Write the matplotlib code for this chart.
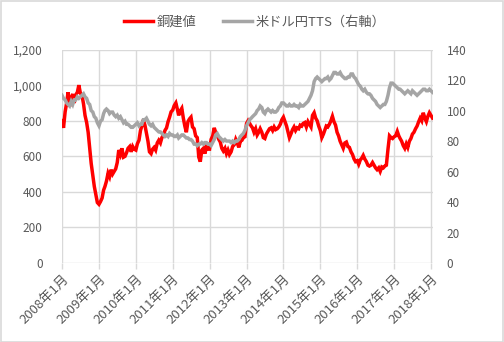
import datetime as dt
import numpy as np
import matplotlib
matplotlib.use("Agg")
import matplotlib.pyplot as plt
from matplotlib.patches import Rectangle

plt.rcParams['font.family'] = ['Noto Sans CJK JP', 'DejaVu Sans']

# Semi-monthly observations (1st and 16th of each month), Jan 2008 - Jan 2018
copper = [
    # 2008
    800, 760, 850, 900, 960, 880, 930, 950, 900, 945, 960, 1000,
    955, 945, 895, 830, 790, 735, 650, 560, 495, 430, 385, 340,
    # 2009
    330, 345, 365, 410, 430, 460, 505, 485, 525, 500, 515, 530,
    565, 635, 610, 645, 595, 600, 620, 645, 655, 625, 655, 640,
    # 2010
    635, 670, 690, 745, 770, 805, 775, 730, 685, 625, 615, 640,
    650, 635, 675, 690, 675, 705, 720, 745, 760, 795, 820, 850,
    # 2011
    860, 885, 900, 865, 830, 855, 870, 815, 770, 735, 795, 810,
    820, 765, 755, 715, 705, 595, 570, 635, 645, 615, 655, 640,
    # 2012
    640, 695, 715, 760, 735, 720, 695, 680, 645, 630, 645, 615,
    635, 610, 625, 655, 665, 695, 675, 650, 685, 690, 705, 710,
    # 2013
    785, 800, 785, 770, 760, 735, 755, 720, 735, 755, 735, 705,
    700, 725, 740, 755, 760, 745, 765, 750, 755, 765, 780, 805,
    # 2014
    820, 795, 770, 735, 705, 725, 750, 765, 745, 760, 755, 775,
    770, 785, 790, 765, 795, 780, 765, 830, 845, 815, 800, 770,
    # 2015
    745, 705, 725, 750, 770, 765, 780, 800, 825, 795, 775, 735,
    715, 685, 665, 645, 675, 680, 655, 650, 625, 610, 585, 570,
    # 2016
    575, 555, 580, 590, 605, 585, 570, 550, 545, 550, 565, 550,
    535, 525, 535, 515, 540, 535, 545, 550, 640, 715, 705, 700,
    # 2017
    710, 715, 740, 715, 700, 685, 660, 645, 670, 650, 685, 700,
    725, 735, 755, 770, 795, 815, 800, 845, 815, 795, 825, 845,
    # 2018
    830, 815,
]

usdjpy_tts = [
    # 2008
    110, 108, 107, 105, 104, 103, 106, 104, 107, 107, 109, 108,
    109, 110, 111, 109, 108, 105, 104, 100, 99, 96, 95, 92,
    # 2009
    90, 93, 94, 98, 100, 101, 100, 98, 99, 99, 97, 96,
    97, 95, 96, 94, 92, 93, 91, 91, 90, 89, 89, 90,
    # 2010
    91, 92, 90, 91, 91, 94, 94, 95, 93, 91, 90, 91,
    89, 88, 87, 86, 86, 85, 84, 83, 84, 83, 85, 84,
    # 2011
    84, 83, 83, 84, 82, 83, 84, 84, 83, 82, 82, 81,
    81, 80, 78, 78, 77, 78, 78, 79, 78, 79, 79, 78,
    # 2012
    78, 77, 79, 81, 84, 85, 83, 82, 81, 80, 81, 80,
    80, 80, 79, 80, 79, 80, 80, 81, 83, 84, 85, 87,
    # 2013
    90, 92, 94, 95, 96, 97, 98, 100, 101, 103, 102, 99,
    98, 100, 101, 100, 99, 100, 99, 99, 100, 102, 103, 105,
    # 2014
    105, 104, 103, 103, 104, 103, 103, 104, 103, 103, 102, 104,
    103, 103, 104, 105, 106, 108, 110, 113, 119, 121, 122, 121,
    # 2015
    120, 119, 120, 121, 121, 122, 120, 121, 123, 125, 125, 124,
    124, 125, 123, 122, 121, 121, 122, 122, 124, 124, 122, 121,
    # 2016
    119, 117, 116, 114, 113, 114, 112, 111, 111, 110, 108, 107,
    106, 104, 103, 102, 103, 104, 104, 106, 110, 115, 118, 118,
    # 2017
    117, 116, 115, 114, 114, 113, 112, 111, 112, 113, 112, 111,
    113, 112, 111, 110, 111, 112, 113, 114, 114, 113, 113, 114,
    # 2018
    113, 112,
]

series_names = ['銅建値', '米ドル円TTS（右軸）']
years = list(range(2008, 2019))
x_labels = [f'{y}年1月' for y in years]
left_ticks = [0, 200, 400, 600, 800, 1000, 1200]
right_ticks = [0, 20, 40, 60, 80, 100, 120, 140]

dates = [dt.date(2008 + i // 24, (i // 2) % 12 + 1, 1 + 15 * (i % 2))
         for i in range(len(copper))]

text_color = '#595959'
grid_color = '#D9D9D9'
red = '#FF0000'
gray = '#A5A5A5'

fig = plt.figure(figsize=(5.04, 3.42), dpi=100)
fig.patches.append(Rectangle((0.001, 0.001), 0.997, 0.996, transform=fig.transFigure,
                             fill=False, edgecolor='#D9D9D9', linewidth=1.2))

ax = fig.add_axes([0.123, 0.231, 0.736, 0.624])
ax2 = ax.twinx()

# copper on the primary axis, the exchange rate (secondary axis) drawn on top
l1, = ax.plot(dates, copper, color=red, linewidth=2.5, solid_joinstyle='miter', zorder=3)
l2, = ax2.plot(dates, usdjpy_tts, color=gray, linewidth=2.5, solid_joinstyle='miter', zorder=3)

ax.set_ylim(0, 1200)
ax.set_yticks(left_ticks)
ax.set_yticklabels([f'{v:,}' for v in left_ticks])
ax2.set_ylim(0, 140)
ax2.set_yticks(right_ticks)

xticks = [dt.date(y, 1, 1) for y in years]
ax.set_xlim(dt.date(2008, 1, 1), dt.date(2018, 1, 20))
ax.set_xticks(xticks)
ax.set_xticklabels(x_labels, rotation=45, ha='right', va='top', rotation_mode='anchor')

ax.grid(True, color=grid_color, linewidth=1.0)
ax.set_axisbelow(True)

for a in (ax, ax2):
    for s in a.spines.values():
        s.set_visible(False)

ax.tick_params(axis='y', length=0, pad=14, labelsize=8.5, labelcolor=text_color)
ax2.tick_params(axis='y', length=0, pad=10, labelsize=8.5, labelcolor=text_color)
ax.tick_params(axis='x', length=4, width=1, color=grid_color, pad=3,
               labelsize=9.5, labelcolor=text_color)

leg = fig.legend([l1, l2], series_names, loc='center', bbox_to_anchor=(0.505, 0.935),
                 ncol=2, frameon=False, fontsize=9.5, handlelength=2.2,
                 handletextpad=0.3, columnspacing=2.0, labelcolor=text_color)

fig.savefig('out.png', dpi=100)
